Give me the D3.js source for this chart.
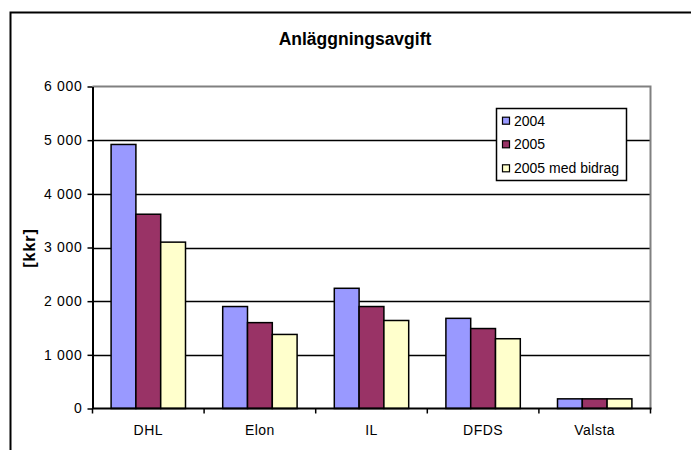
<!DOCTYPE html>
<html>
<head>
<meta charset="utf-8">
<script src="https://cdn.jsdelivr.net/npm/d3@7"></script>
<style>
  html, body { margin: 0; padding: 0; background: #fff; }
  svg { display: block; font-family: "Liberation Sans", Arial, sans-serif; }
</style>
</head>
<body>
<svg id="chart" width="691" height="450"></svg>
<script>
const categories = ["DHL", "Elon", "IL", "DFDS", "Valsta"];
const seriesNames = ["2004", "2005", "2005 med bidrag"];
const values2004 = [4920, 1900, 2240, 1680, 180];
const values2005 = [3620, 1600, 1900, 1490, 180];
const values2005Bidrag = [3100, 1380, 1640, 1300, 180];
const yTicks = [0, 1000, 2000, 3000, 4000, 5000, 6000];
const colors = ["#9999FF", "#993366", "#FFFFCC"];
const title = "Anläggningsavgift";
const yLabel = "[kkr]";

const seriesValues = [values2004, values2005, values2005Bidrag];

const svg = d3.select("#chart");

// outer chart frame
svg.append("rect")
  .attr("x", 10.5).attr("y", 12.5)
  .attr("width", 700).attr("height", 460)
  .attr("fill", "#fff").attr("stroke", "#000").attr("stroke-width", 2);

const plot = { left: 92.5, right: 650.5, top: 86.5, bottom: 408.5 };

const x0 = d3.scaleBand()
  .domain(categories)
  .range([plot.left, plot.right])
  .paddingInner(1 / 3)
  .paddingOuter(1 / 6);

const x1 = d3.scaleBand()
  .domain(seriesNames)
  .range([0, x0.bandwidth()]);

const y = d3.scaleLinear().domain([0, 6000]).range([plot.bottom, plot.top]);

const fmt = v => d3.format(",")(v).replace(/,/g, " ");

// gridlines
svg.append("g")
  .selectAll("line")
  .data(yTicks.filter(t => t > 0 && t < 6000))
  .join("line")
  .attr("x1", plot.left).attr("x2", plot.right)
  .attr("y1", d => Math.round(y(d)) + 0.5).attr("y2", d => Math.round(y(d)) + 0.5)
  .attr("stroke", "#000").attr("stroke-width", 1.5);

// plot area border (top & right gray)
svg.append("path")
  .attr("d", `M${plot.left},${plot.top} H${plot.right} V${plot.bottom}`)
  .attr("fill", "none").attr("stroke", "#808080").attr("stroke-width", 2);

// bars
const groups = svg.append("g")
  .selectAll("g")
  .data(categories)
  .join("g")
  .attr("transform", d => `translate(${x0(d)},0)`);

groups.selectAll("rect")
  .data((c, i) => seriesNames.map((s, j) => ({ s, j, v: seriesValues[j][i] })))
  .join("rect")
  .attr("x", d => x1(d.s))
  .attr("y", d => y(d.v))
  .attr("width", x1.bandwidth())
  .attr("height", d => y(0) - y(d.v))
  .attr("fill", d => colors[d.j])
  .attr("stroke", "#000")
  .attr("stroke-width", 1.5);

// y axis
const yAxis = svg.append("g")
  .attr("transform", `translate(${plot.left},0)`)
  .call(d3.axisLeft(y).tickValues(yTicks).tickFormat(fmt).tickSize(5).tickSizeOuter(0).tickPadding(5));
yAxis.attr("font-size", null).attr("font-family", null);
yAxis.select(".domain").attr("stroke", "#000").attr("stroke-width", 2);
yAxis.selectAll(".tick line").attr("stroke", "#000").attr("stroke-width", 1.5);
yAxis.selectAll(".tick text")
  .style("font-family", "'Liberation Sans', Arial, sans-serif")
  .style("font-size", "14px")
  .style("letter-spacing", "0.7px")
  .attr("fill", "#000");

// x axis line
svg.append("line")
  .attr("x1", plot.left).attr("x2", plot.right + 1)
  .attr("y1", plot.bottom).attr("y2", plot.bottom)
  .attr("stroke", "#000").attr("stroke-width", 2);

// x boundary ticks
const step = x0.step();
const boundaries = d3.range(categories.length + 1).map(i => plot.left + i * step);
svg.append("g").selectAll("line")
  .data(boundaries)
  .join("line")
  .attr("x1", d => d).attr("x2", d => d)
  .attr("y1", plot.bottom).attr("y2", plot.bottom + 5)
  .attr("stroke", "#000").attr("stroke-width", 1.5);

// category labels
svg.append("g").selectAll("text")
  .data(categories)
  .join("text")
  .attr("x", d => x0(d) + x0.bandwidth() / 2)
  .attr("y", 430)
  .attr("text-anchor", "middle")
  .attr("dominant-baseline", "central")
  .style("font-size", "14px")
  .style("letter-spacing", "0.5px")
  .text(d => d);

// title
svg.append("text")
  .attr("x", 355).attr("y", 39)
  .attr("text-anchor", "middle")
  .attr("dominant-baseline", "central")
  .style("font-size", "17.5px").attr("font-weight", "bold")
  .text(title);

// y label
svg.append("text")
  .attr("transform", "translate(29,248) rotate(-90)")
  .attr("text-anchor", "middle")
  .attr("dominant-baseline", "central")
  .style("font-size", "16px").attr("font-weight", "bold")
  .style("letter-spacing", "1px")
  .text(yLabel);

// legend
const legend = svg.append("g");
legend.append("rect")
  .attr("x", 496.5).attr("y", 108.5).attr("width", 130).attr("height", 72)
  .attr("fill", "#fff").attr("stroke", "#000").attr("stroke-width", 1.5);
const legendY = [120.7, 144.3, 168.3];
const li = legend.selectAll("g.item")
  .data(seriesNames)
  .join("g").attr("class", "item")
  .attr("transform", (d, i) => `translate(0,${legendY[i]})`);
li.append("rect")
  .attr("x", 502.5).attr("y", -3.5).attr("width", 7).attr("height", 7)
  .attr("fill", (d, i) => colors[i]).attr("stroke", "#000").attr("stroke-width", 1.2);
li.append("text")
  .attr("x", 514).attr("y", 0)
  .attr("dominant-baseline", "central")
  .style("font-size", "14px")
  .text(d => d);
</script>
</body>
</html>
